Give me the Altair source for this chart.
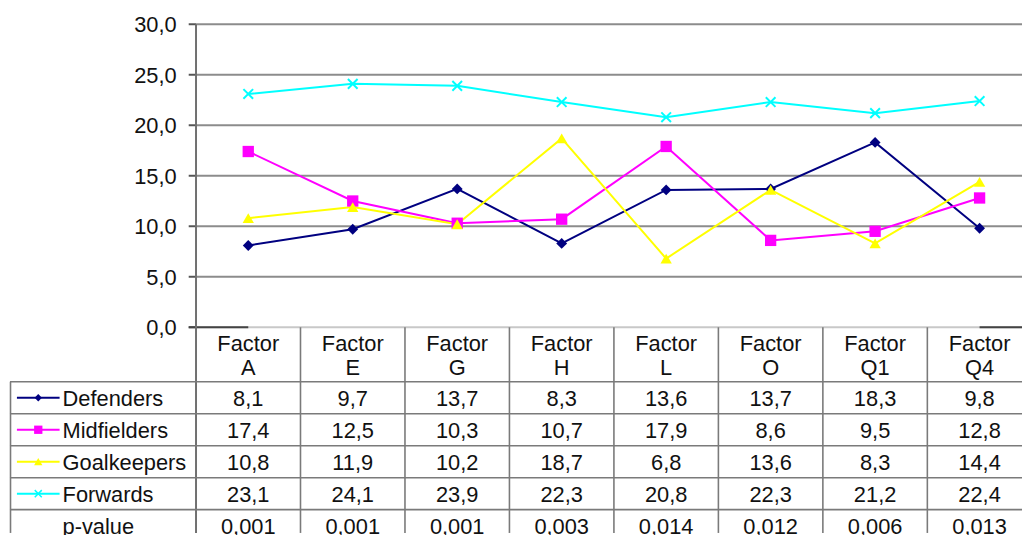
import altair as alt
import pandas as pd

# ---------------- data ----------------
factors = ["A", "E", "G", "H", "L", "O", "Q1", "Q4"]
series_names = ["Defenders", "Midfielders", "Goalkeepers", "Forwards"]
defenders = [8.1, 9.7, 13.7, 8.3, 13.6, 13.7, 18.3, 9.8]
midfielders = [17.4, 12.5, 10.3, 10.7, 17.9, 8.6, 9.5, 12.8]
goalkeepers = [10.8, 11.9, 10.2, 18.7, 6.8, 13.6, 8.3, 14.4]
forwards = [23.1, 24.1, 23.9, 22.3, 20.8, 22.3, 21.2, 22.4]
p_values = ["0,001", "0,001", "0,001", "0,003", "0,014", "0,012", "0,006", "0,013"]
y_ticks = [0, 5, 10, 15, 20, 25, 30]
colors = ["#000080", "#FF00FF", "#FFFF00", "#00FFFF"]
series_values = [defenders, midfielders, goalkeepers, forwards]

# ---------------- layout ----------------
W, H = 1022, 527
PX = 10.18                     # pixels per value unit (vertical)
COLW = 105.3                   # pixels per category column
X_MIN = -(197.5 - 8) / COLW
X_MAX = (1030 - 197.5) / COLW
Y_MAX = 30 + (22.3 - 8) / PX
Y_MIN = -(535 - 327.7) / PX
HEADER = 55.0                  # header row height in px
ROW = 32.2                     # table row height in px
LEFT = -(197.5 - 10) / COLW    # table left border
FONT = "Liberation Sans"
FS = 22
TXT = "#111111"
TDY = 1.5

def down(px):
    return -px / PX

xs = alt.Scale(domain=[X_MIN, X_MAX], nice=False, zero=False)
ys = alt.Scale(domain=[Y_MIN, Y_MAX], nice=False, zero=False)

def X(f="x"):
    return alt.X(f, type="quantitative", scale=xs, axis=None)

def Y(f="y"):
    return alt.Y(f, type="quantitative", scale=ys, axis=None)

layers = []

# gridlines
grid = pd.DataFrame({"y": [t for t in y_ticks if t > 0]})
grid["x"], grid["x2"] = 0.0, X_MAX
layers.append(alt.Chart(grid).mark_rule(color="#8c8c8c", strokeWidth=2).encode(
    x=X(), x2="x2", y=Y()))

# y tick marks
ticks = pd.DataFrame({"y": y_ticks})
ticks["x"], ticks["x2"] = -0.07, 0.0
layers.append(alt.Chart(ticks).mark_rule(color="#555555", strokeWidth=2).encode(
    x=X(), x2="x2", y=Y()))

# y tick labels
ylab = pd.DataFrame({"y": y_ticks, "t": [f"{v:.1f}".replace(".", ",") for v in y_ticks]})
ylab["x"] = -0.185
layers.append(alt.Chart(ylab).mark_text(align="right", baseline="middle", font=FONT,
                                        fontSize=FS, color=TXT, dy=1).encode(
    x=X(), y=Y(), text="t:N"))

# zero line: light across, dark ends
zl = pd.DataFrame({"x": [0.0], "x2": [X_MAX], "y": [0.0]})
layers.append(alt.Chart(zl).mark_rule(color="#c8c8c8", strokeWidth=2).encode(
    x=X(), x2="x2", y=Y()))
zd = pd.DataFrame({"x": [-0.07, 7.5], "x2": [0.5, X_MAX], "y": [0.0, 0.0]})
layers.append(alt.Chart(zd).mark_rule(color="#444444", strokeWidth=2).encode(
    x=X(), x2="x2", y=Y()))

# y axis line (continues down as table column line)
ya = pd.DataFrame({"x": [0.0], "y": [30.0], "y2": [Y_MIN]})
layers.append(alt.Chart(ya).mark_rule(color="#707070", strokeWidth=2).encode(
    x=X(), y=Y(), y2="y2"))

# table column lines
cl = pd.DataFrame({"x": list(range(1, len(factors))) + [LEFT + 0.005]})
cl["y"] = [0.0] * (len(factors) - 1) + [down(HEADER)]
cl["y2"] = Y_MIN
layers.append(alt.Chart(cl).mark_rule(color="#7a7a7a", strokeWidth=1.6).encode(
    x=X(), y=Y(), y2="y2"))

# table row lines
n_rows = len(series_names) + 1
rl = pd.DataFrame({"y": [down(HEADER + k * ROW) for k in range(n_rows + 1)]})
rl["x"], rl["x2"] = LEFT, X_MAX
layers.append(alt.Chart(rl).mark_rule(color="#7a7a7a", strokeWidth=1.6).encode(
    x=X(), x2="x2", y=Y()))

# header text
hdr1 = pd.DataFrame({"x": [j + 0.5 for j in range(len(factors))], "t": ["Factor"] * len(factors)})
hdr1["y"] = down(343 - 327.7)
hdr2 = pd.DataFrame({"x": [j + 0.5 for j in range(len(factors))], "t": factors})
hdr2["y"] = down(367.5 - 327.7)
for d in (hdr1, hdr2):
    layers.append(alt.Chart(d).mark_text(align="center", baseline="middle", font=FONT,
                                         fontSize=FS, color=TXT, dy=TDY).encode(
        x=X(), y=Y(), text="t:N"))

# table values
rows = []
for k, vals in enumerate(series_values):
    for j, v in enumerate(vals):
        rows.append({"x": j + 0.5, "y": down(HEADER + (k + 0.5) * ROW),
                     "t": f"{v:.1f}".replace(".", ",")})
for j, p in enumerate(p_values):
    rows.append({"x": j + 0.5, "y": down(HEADER + (len(series_names) + 0.5) * ROW), "t": p})
tv = pd.DataFrame(rows)
layers.append(alt.Chart(tv).mark_text(align="center", baseline="middle", font=FONT,
                                      fontSize=FS, color=TXT, dy=TDY).encode(
    x=X(), y=Y(), text="t:N"))

# row labels (legend column)
lab = pd.DataFrame({"t": series_names + ["p-value"],
                    "y": [down(HEADER + (k + 0.5) * ROW) for k in range(n_rows)]})
lab["x"] = -(197.5 - 63) / COLW
layers.append(alt.Chart(lab).mark_text(align="left", baseline="middle", font=FONT,
                                       fontSize=FS, color=TXT, dy=TDY).encode(
    x=X(), y=Y(), text="t:N"))

# legend keys
LK0, LK1 = -(197.5 - 17) / COLW, -(197.5 - 60) / COLW
LKC = (LK0 + LK1) / 2
shapes = ["diamond", "square", "triangle-up", "M-1,-1L1,1M-1,1L1,-1"]
sizes = [120, 130, 130, 95]
leg_sizes = [55, 70, 70, 50]
cscale = alt.Scale(domain=series_names, range=colors)

for k, name in enumerate(series_names):
    yk = down(HEADER + (k + 0.5) * ROW)
    d = pd.DataFrame({"x": [LK0], "x2": [LK1], "y": [yk], "s": [name]})
    layers.append(alt.Chart(d).mark_rule(strokeWidth=2).encode(
        x=X(), x2="x2", y=Y(), color=alt.Color("s:N", scale=cscale, legend=None)))
    dp = pd.DataFrame({"x": [LKC], "y": [yk], "s": [name]})
    filled = k < 3
    layers.append(alt.Chart(dp).mark_point(shape=shapes[k], size=leg_sizes[k], filled=filled,
                                           opacity=1, strokeWidth=1.5).encode(
        x=X(), y=Y(), color=alt.Color("s:N", scale=cscale, legend=None)))

# series lines and markers
long_rows = []
for name, vals in zip(series_names, series_values):
    for j, v in enumerate(vals):
        long_rows.append({"s": name, "x": j + 0.5, "y": v})
ld = pd.DataFrame(long_rows)
for k, name in enumerate(series_names):
    d = ld[ld["s"] == name]
    layers.append(alt.Chart(d).mark_line(strokeWidth=2).encode(
        x=X(), y=Y(), color=alt.Color("s:N", scale=cscale, legend=None)))
for k, name in enumerate(series_names):
    d = ld[ld["s"] == name]
    filled = k < 3
    layers.append(alt.Chart(d).mark_point(shape=shapes[k], size=sizes[k], filled=filled,
                                          opacity=1, strokeWidth=2).encode(
        x=X(), y=Y(), color=alt.Color("s:N", scale=cscale, legend=None)))

chart = alt.layer(*layers).properties(
    width=W, height=H, autosize=alt.AutoSizeParams(type="none"), padding=0,
    background="white"
).configure_view(stroke=None)

chart.save("out.html", embed_options={"renderer": "svg", "actions": False})
